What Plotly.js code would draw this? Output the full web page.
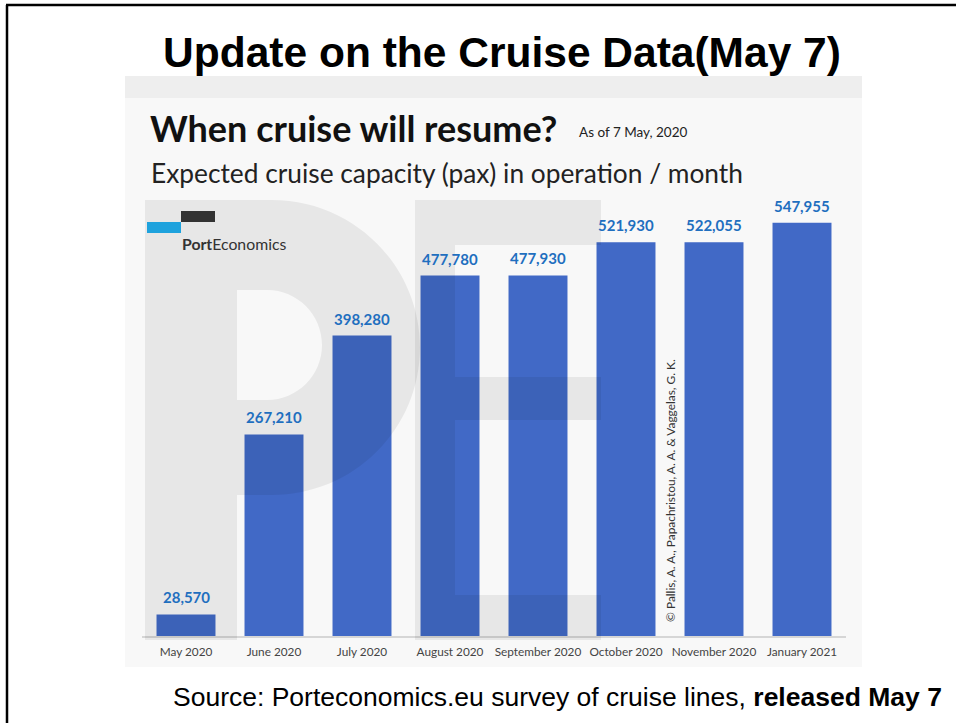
<!DOCTYPE html>
<html>
<head>
<meta charset="utf-8">
<script src="https://cdn.plot.ly/plotly-3.0.1.min.js"></script>
<style>html,body{margin:0;padding:0;background:#fff;}#chart{width:956px;height:723px;}</style>
</head>
<body>
<div id="chart"></div>
<script>
// ---- data ----
const months = ["May 2020","June 2020","July 2020","August 2020","September 2020","October 2020","November 2020","January 2021"];
const capacity = [28570, 267210, 398280, 477780, 477930, 521930, 522055, 547955];

// ---- geometry helpers (plot area in pixels) ----
const W = 956, H = 723;
const L = 142, R = 846, T = 200, B = 636;
const px = x => (x - L) / (R - L);
const py = y => (B - y) / (B - T);
function pathFrom(cmds) {
  return cmds.map(c => {
    const letter = c[0];
    const pts = [];
    for (let i = 1; i < c.length; i += 2) pts.push(px(c[i]).toFixed(5) + ',' + py(c[i+1]).toFixed(5));
    return letter + pts.join(' ');
  }).join(' ');
}
function rect(x0, y0, x1, y1, color, layer) {
  return {type:'rect', xref:'paper', yref:'paper', x0:px(x0), x1:px(x1), y0:py(y1), y1:py(y0),
          fillcolor:color, line:{width:0}, layer:layer || 'below'};
}
function line(x0, y0, x1, y1, color, w) {
  return {type:'line', xref:'paper', yref:'paper', x0:px(x0), x1:px(x1), y0:py(y0), y1:py(y1),
          line:{color:color, width:w}, layer:'above'};
}
const k = 0.5523;
const pPath = pathFrom([
  ['M',145,200],['L',272,200],
  ['C',272+k*148,200, 420,347.5-k*147.5, 420,347.5],
  ['C',420,347.5+k*147.5, 272+k*148,495, 272,495],
  ['L',237,495],['L',237,640],['L',145,640],['Z'],
  ['M',237,290],['L',267,290],
  ['C',267+k*55,290, 322,345-k*55, 322,345],
  ['C',322,345+k*55, 267+k*55,400, 267,400],
  ['L',237,400],['Z']
]);
const ePath = pathFrom([
  ['M',415,200],['L',601,200],['L',601,245],['L',455,245],['L',455,377],['L',601,377],
  ['L',601,420],['L',455,420],['L',455,595],['L',601,595],['L',601,640],['L',415,640],['Z']
]);

const shapes = [
  rect(125, 76, 862, 667, '#f8f8f8'),
  rect(125, 76, 862, 98, '#eeeeee'),
  {type:'path', xref:'paper', yref:'paper', path:pPath, fillcolor:'rgba(0,0,0,0.065)', fillrule:'evenodd', line:{width:0}, layer:'above'},
  {type:'path', xref:'paper', yref:'paper', path:ePath, fillcolor:'rgba(0,0,0,0.065)', line:{width:0}, layer:'above'},
  rect(147, 222, 181, 233, '#1ea2dd', 'above'),
  rect(181, 211, 215, 222, '#333333', 'above'),
  line(6, 5, 956, 5, '#000', 2.5),
  line(7, 5, 7, 723, '#000', 2.5)
];

const valueLabels = months.map((m, i) => ({
  x: m, y: capacity[i], xref:'x', yref:'y', text: capacity[i].toLocaleString('en-US'),
  showarrow:false, xanchor:'center', yanchor:'bottom', yshift:6,
  font:{family:'Lato, sans-serif', size:15, color:'#1f6fbf', weight:700}
}));

const annotations = [
  {text:'When cruise will resume?', xref:'paper', yref:'paper', x:px(148), y:py(128), xanchor:'left', yanchor:'middle', showarrow:false,
   font:{family:'Lato, sans-serif', size:36, color:'#111', weight:700}},
  {text:'As of 7 May, 2020', xref:'paper', yref:'paper', x:px(577), y:py(132), xanchor:'left', yanchor:'middle', showarrow:false,
   font:{family:'Lato, sans-serif', size:13.5, color:'#222'}},
  {text:'Expected cruise capacity (pax) in operation / month', xref:'paper', yref:'paper', x:px(149), y:py(173), xanchor:'left', yanchor:'middle', showarrow:false,
   font:{family:'Lato, sans-serif', size:26.3, color:'#222'}},
  {text:'<b>Port</b>Economics', xref:'paper', yref:'paper', x:px(180), y:py(243), xanchor:'left', yanchor:'middle', showarrow:false,
   font:{family:'Lato, sans-serif', size:15.8, color:'#333'}},
  {text:'© Pallis, A. A., Papachristou, A. A. & Vaggelas, G. K.', xref:'paper', yref:'paper', x:px(670), y:py(491), xanchor:'center', yanchor:'middle', textangle:-90, showarrow:false,
   font:{family:'Lato, sans-serif', size:11.9, color:'#333'}},
  {text:'Source: Porteconomics.eu survey of cruise lines, <b>released May 7</b>', xref:'paper', yref:'paper', x:px(557), y:py(697), xanchor:'center', yanchor:'middle', showarrow:false,
   font:{family:'Liberation Sans, Arial, sans-serif', size:26.5, color:'#000'}}
].concat(valueLabels);

const trace = {
  type:'bar', x:months, y:capacity, width:0.67,
  marker:{color:'#4169c6'},
  hoverinfo:'x+y'
};

const layout = {
  width:W, height:H,
  margin:{l:L, r:W-R, t:T, b:H-B, pad:0},
  paper_bgcolor:'#ffffff', plot_bgcolor:'rgba(0,0,0,0)',
  title:{text:'<b>Update on the Cruise Data(May 7)</b>', xref:'container', yref:'container', x:502/W, y:1-52/H, xanchor:'center', yanchor:'middle',
         font:{family:'Liberation Sans, Arial, sans-serif', size:42.5, color:'#000'}},
  xaxis:{type:'category', range:[-0.5,7.5], showgrid:false, zeroline:false, showline:true, linecolor:'#d6d6d6', linewidth:1.5,
         ticks:'', ticklabelstandoff:4, tickfont:{family:'Lato, sans-serif', size:11.8, color:'#444'}, tickangle:0, fixedrange:true},
  yaxis:{range:[0,578000], showgrid:false, zeroline:false, showticklabels:false, showline:false, ticks:'', fixedrange:true},
  shapes:shapes, annotations:annotations, showlegend:false, bargap:0.33
};

Plotly.newPlot('chart', [trace], layout, {displayModeBar:false, staticPlot:true});
</script>
</body>
</html>
